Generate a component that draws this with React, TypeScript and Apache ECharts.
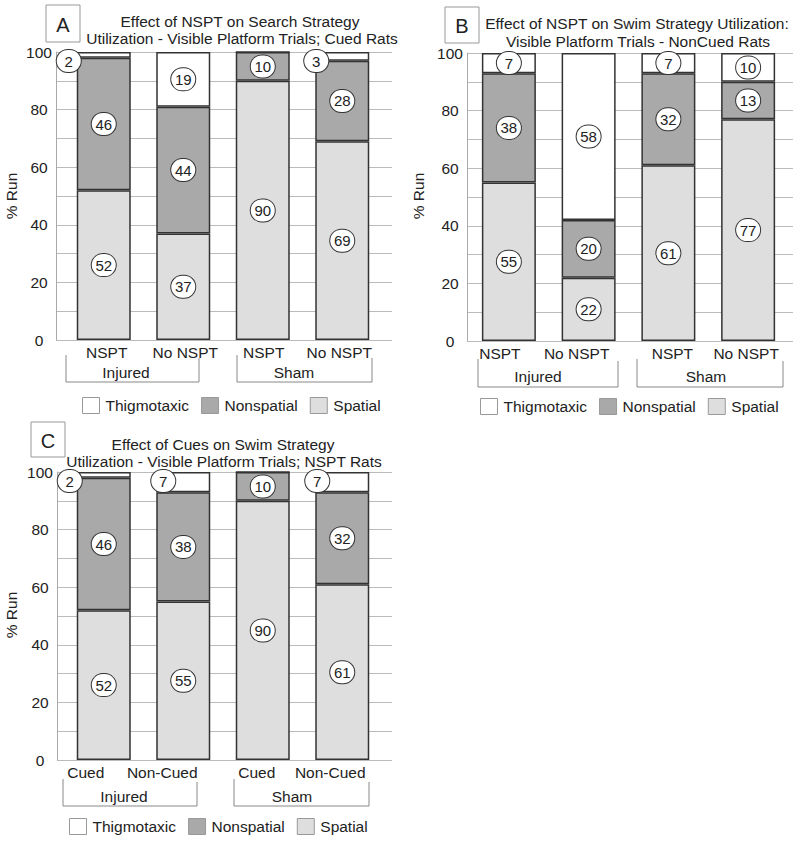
import React, { useEffect, useRef } from "react";
import * as echarts from "echarts";

// ---------- data ----------
const seriesNames = ["Spatial", "Nonspatial", "Thigmotaxic"];
const legendOrder = ["Thigmotaxic", "Nonspatial", "Spatial"];

const catsA = ["NSPT", "No NSPT", "NSPT", "No NSPT"];
const spatialA = [52, 37, 90, 69];
const nonspatialA = [46, 44, 10, 28];
const thigmoA = [2, 19, 0, 3];

const catsB = ["NSPT", "No NSPT", "NSPT", "No NSPT"];
const spatialB = [55, 22, 61, 77];
const nonspatialB = [38, 20, 32, 13];
const thigmoB = [7, 58, 7, 10];

const catsC = ["Cued", "Non-Cued", "Cued", "Non-Cued"];
const spatialC = [52, 55, 90, 61];
const nonspatialC = [46, 38, 10, 32];
const thigmoC = [2, 7, 0, 7];

const groupLabels = ["Injured", "Sham"];
const yTicks = [0, 20, 40, 60, 80, 100];

const titlesA = ["Effect of NSPT on Search Strategy", "Utilization - Visible Platform Trials; Cued Rats"];
const titlesB = ["Effect of NSPT on Swim Strategy Utilization:", "Visible Platform Trials - NonCued Rats"];
const titlesC = ["Effect of Cues on Swim Strategy", "Utilization - Visible Platform Trials; NSPT Rats"];

// ---------- layout / style ----------
const FONT = "Liberation Sans, Arial, sans-serif";
const COLORS: Record<string, string> = {
  Spatial: "#dedede",
  Nonspatial: "#a9a9a9",
  Thigmotaxic: "#ffffff",
};

type Panel = {
  letter: string;
  cats: string[];
  values: number[][]; // spatial, nonspatial, thigmo
  titles: string[];
  bg: { left: number; top: number; width: number; height: number };
  fg: { left: number; width: number };
  labelShift: number[];
  corner: Record<number, number[]>; // thigmo label custom positions
  letterBox: number[];
  titlePos: number[][];
  runPos: number[];
  legendPos: number[];
  brackets: { x1: number; x2: number; top: number; topR: number; bottom: number; tx: number; ty: number }[];
};

const panels: Panel[] = [
  {
    letter: "A",
    cats: catsA,
    values: [spatialA, nonspatialA, thigmoA],
    titles: titlesA,
    bg: { left: 56, top: 52, width: 336, height: 288 },
    fg: { left: 64, width: 318 },
    labelShift: [3, 2, 1, -3],
    corner: { 0: [-8, 9], 3: [1, 9] },
    letterBox: [46, 5, 34, 37],
    titlePos: [[240, 21], [242, 38]],
    runPos: [11, 196],
    legendPos: [82, 397],
    brackets: [
      { x1: 66, x2: 199, top: 355, topR: 358, bottom: 382, tx: 126, ty: 372 },
      { x1: 237, x2: 372, top: 355, topR: 358, bottom: 382, tx: 294, ty: 372 },
    ],
  },
  {
    letter: "B",
    cats: catsB,
    values: [spatialB, nonspatialB, thigmoB],
    titles: titlesB,
    bg: { left: 467, top: 53, width: 326, height: 288 },
    fg: { left: 469, width: 319 },
    labelShift: [-9, -12, 4, -2],
    corner: {},
    letterBox: [445, 7, 34, 36],
    titlePos: [[637, 23], [638, 41]],
    runPos: [418, 196],
    legendPos: [480, 398],
    brackets: [
      { x1: 478, x2: 618, top: 359, topR: 361, bottom: 387, tx: 538, ty: 376 },
      { x1: 637, x2: 783, top: 359, topR: 361, bottom: 387, tx: 706, ty: 376 },
    ],
  },
  {
    letter: "C",
    cats: catsC,
    values: [spatialC, nonspatialC, thigmoC],
    titles: titlesC,
    bg: { left: 57, top: 472, width: 335, height: 288 },
    fg: { left: 64, width: 318 },
    labelShift: [-18, -21, -6, -12],
    corner: { 0: [-7, 9], 1: [7, 9], 3: [2, 9] },
    letterBox: [31, 422, 34, 35],
    titlePos: [[223, 444], [224, 461]],
    runPos: [11, 615],
    legendPos: [69, 818],
    brackets: [
      { x1: 63, x2: 197, top: 779, topR: 782, bottom: 806, tx: 124, ty: 796 },
      { x1: 234, x2: 369, top: 779, topR: 782, bottom: 806, tx: 292, ty: 796 },
    ],
  },
];

function buildOption() {
  const grid: any[] = [];
  const xAxis: any[] = [];
  const yAxis: any[] = [];
  const series: any[] = [];
  const legend: any[] = [];
  const graphic: any[] = [];

  panels.forEach((p, pi) => {
    const bgIdx = 2 * pi;
    const fgIdx = 2 * pi + 1;
    grid.push({ left: p.bg.left, top: p.bg.top, width: p.bg.width, height: p.bg.height });
    grid.push({ left: p.fg.left, top: p.bg.top, width: p.fg.width, height: p.bg.height });

    xAxis.push({ gridIndex: bgIdx, type: "value", show: false, min: 0, max: 1 });
    const rich: any = {};
    p.labelShift.forEach((s, i) => {
      rich["s" + i] = {
        fontFamily: FONT,
        fontSize: 15.5,
        color: "#222",
        padding: s >= 0 ? [0, 0, 0, 2 * s] : [0, -2 * s, 0, 0],
      };
    });
    xAxis.push({
      gridIndex: fgIdx,
      type: "category",
      data: p.cats,
      axisLine: { show: false },
      axisTick: { show: false },
      axisLabel: {
        interval: 0,
        margin: 4,
        fontFamily: FONT,
        fontSize: 15.5,
        color: "#222",
        formatter: (v: string, i: number) => `{s${i}|${v}}`,
        rich,
      },
    });

    yAxis.push({
      gridIndex: bgIdx,
      type: "value",
      min: 0,
      max: 100,
      interval: 10,
      axisLine: { show: true, lineStyle: { color: "#aaa", width: 1 } },
      axisTick: { show: false },
      splitLine: { show: true, lineStyle: { color: "#bbb", width: 1 } },
      axisLabel: {
        align: "center",
        margin: 17,
        fontFamily: FONT,
        fontSize: 15.5,
        color: "#222",
        formatter: (v: number) => (yTicks.includes(v) ? String(v) : ""),
      },
    });
    yAxis.push({ gridIndex: fgIdx, type: "value", min: 0, max: 100, show: false });

    p.values.forEach((vals, si) => {
      const name = seriesNames[si];
      series.push({
        type: "bar",
        name,
        xAxisIndex: fgIdx,
        yAxisIndex: fgIdx,
        stack: "panel" + pi,
        barWidth: 54,
        itemStyle: { color: COLORS[name], borderColor: "#333", borderWidth: 1.5 },
        label: {
          show: true,
          position: "inside",
          align: "center",
          verticalAlign: "middle",
          fontFamily: FONT,
          fontSize: 15,
          color: "#222",
          backgroundColor: "#fff",
          borderColor: "#333",
          borderWidth: 1,
          borderRadius: 12,
          width: 24,
          height: 22,
          lineHeight: 22,
          padding: 0,
        },
        data: vals.map((v, i) => {
          const item: any = { value: v, label: { show: v > 0 } };
          if (si === 2 && p.corner[i]) {
            item.label.position = p.corner[i];
          }
          return item;
        }),
      });
    });

    legend.push({
      data: legendOrder,
      left: p.legendPos[0],
      top: p.legendPos[1],
      orient: "horizontal",
      icon: "rect",
      itemWidth: 17,
      itemHeight: 16,
      itemGap: 12,
      selectedMode: false,
      padding: 0,
      itemStyle: { borderColor: "#999", borderWidth: 1 },
      textStyle: { fontFamily: FONT, fontSize: 15.5, color: "#222", padding: [0, 0, 0, 1] },
    });

    // panel letter box
    graphic.push({
      type: "rect",
      shape: { x: p.letterBox[0], y: p.letterBox[1], width: p.letterBox[2], height: p.letterBox[3] },
      style: { fill: "#fff", stroke: "#999", lineWidth: 1 },
    });
    graphic.push({
      type: "text",
      x: p.letterBox[0] + p.letterBox[2] / 2,
      y: p.letterBox[1] + p.letterBox[3] / 2 + 1,
      style: { text: p.letter, align: "center", verticalAlign: "middle", font: `20px ${FONT}`, fill: "#222" },
    });
    // titles
    p.titles.forEach((t, ti) => {
      graphic.push({
        type: "text",
        x: p.titlePos[ti][0],
        y: p.titlePos[ti][1],
        style: { text: t, align: "center", verticalAlign: "middle", font: `15.5px ${FONT}`, fill: "#222" },
      });
    });
    // % Run
    graphic.push({
      type: "text",
      x: p.runPos[0],
      y: p.runPos[1],
      rotation: Math.PI / 2,
      style: { text: "% Run", align: "center", verticalAlign: "middle", font: `15.5px ${FONT}`, fill: "#222" },
    });
    // group brackets
    p.brackets.forEach((b, bi) => {
      graphic.push({
        type: "polyline",
        shape: { points: [[b.x1, b.top], [b.x1, b.bottom], [b.x2, b.bottom], [b.x2, b.topR]] },
        style: { stroke: "#888", lineWidth: 1, fill: null },
      });
      graphic.push({
        type: "text",
        x: b.tx,
        y: b.ty,
        style: { text: groupLabels[bi], align: "center", verticalAlign: "middle", font: `15.5px ${FONT}`, fill: "#222" },
      });
    });
  });

  return {
    animation: false,
    backgroundColor: "#fff",
    textStyle: { fontFamily: FONT },
    grid,
    xAxis,
    yAxis,
    series,
    legend,
    graphic,
  };
}

export default function App() {
  const ref = useRef<HTMLDivElement>(null);
  useEffect(() => {
    document.body.style.margin = "0";
    if (!ref.current) return;
    const chart = echarts.init(ref.current, undefined, { renderer: "svg" });
    chart.setOption(buildOption() as any);
    return () => chart.dispose();
  }, []);
  return <div ref={ref} style={{ position: "absolute", left: 0, top: 0, width: 800, height: 843 }} />;
}
